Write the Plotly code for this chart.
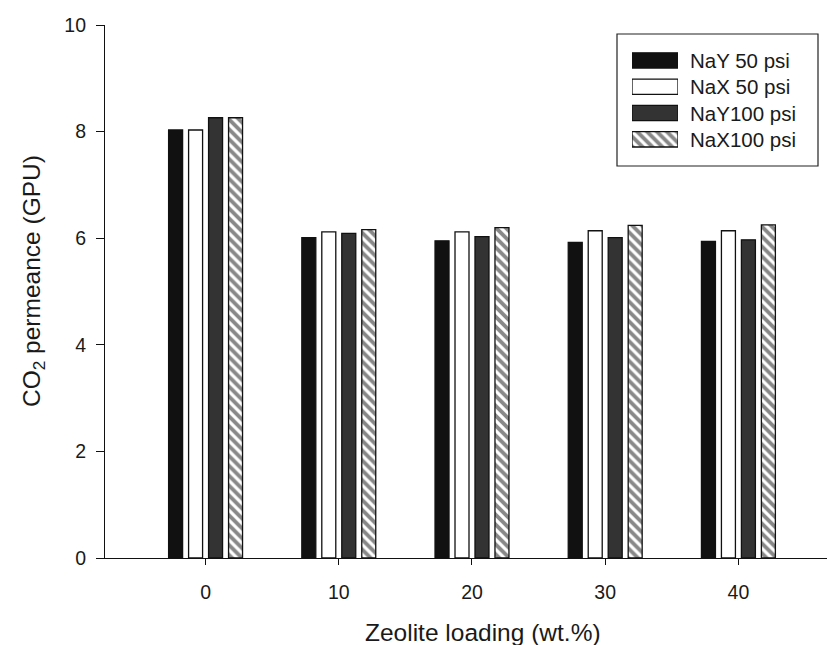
import plotly.graph_objects as go

# Zeolite loading (wt.%) and CO2 permeance (GPU) for each membrane / feed pressure
LOADING = [0, 10, 20, 30, 40]
NAY_50 = [8.03, 6.01, 5.95, 5.92, 5.94]
NAX_50 = [8.03, 6.12, 6.12, 6.14, 6.14]
NAY_100 = [8.26, 6.09, 6.03, 6.01, 5.97]
NAX_100 = [8.26, 6.16, 6.20, 6.24, 6.25]

SERIES_NAMES = ["NaY 50 psi", "NaX 50 psi", "NaY100 psi", "NaX100 psi"]
SERIES_VALUES = [NAY_50, NAX_50, NAY_100, NAX_100]
Y_TICKS = [0, 2, 4, 6, 8, 10]

FILLS = ["#111111", "#ffffff", "#333333", "#ffffff"]
PATTERNS = ["", "", "", "\\"]

FONT = "Arial, Liberation Sans, Helvetica, sans-serif"
INK = "#1a1a1a"

W, H = 827, 645
L, R, T, B = 105, 0, 25, 87
PW, PH = W - L - R, H - T - B


def px_x(x):
    return (x - L) / PW


def px_y(y):
    return (H - B - y) / PH


def marker_style(i):
    m = dict(color=FILLS[i], line=dict(color="#111111", width=1.3))
    if PATTERNS[i]:
        m["pattern"] = dict(shape=PATTERNS[i], fgcolor="#111111", bgcolor="#ffffff",
                            size=7, solidity=0.55, fillmode="overlay")
    return m


fig = go.Figure()

for i, (name, vals) in enumerate(zip(SERIES_NAMES, SERIES_VALUES)):
    fig.add_trace(go.Bar(x=LOADING, y=vals, name=name, marker=marker_style(i),
                         showlegend=False, xaxis="x", yaxis="y"))

# Legend swatches drawn as bars on a small inset axis so they share the bar styling
rows = list(range(len(SERIES_NAMES)))
for i in rows:
    fig.add_trace(go.Bar(x=[1], y=[i], orientation="h", width=0.58,
                         marker=marker_style(i), showlegend=False,
                         xaxis="x2", yaxis="y2", hoverinfo="skip"))

row_centers = [60.5, 86.7, 113.0, 139.3]
annotations = []
for name, yc in zip(SERIES_NAMES, row_centers):
    annotations.append(dict(text=name, xref="paper", yref="paper",
                            x=px_x(688), y=px_y(yc), xanchor="left", yanchor="middle",
                            showarrow=False, font=dict(size=20.5, color=INK, family=FONT)))

# Axis titles
annotations.append(dict(text="Zeolite loading (wt.%)", xref="paper", yref="paper",
                        x=px_x(483), y=px_y(632), xanchor="center", yanchor="middle",
                        showarrow=False, font=dict(size=24.5, color=INK, family=FONT)))
annotations.append(dict(text="CO<sub>2</sub> permeance (GPU)", xref="paper", yref="paper",
                        x=px_x(33), y=px_y(281), xanchor="center", yanchor="middle",
                        textangle=-90, showarrow=False,
                        font=dict(size=24.5, color=INK, family=FONT)))

fig.update_layout(
    width=W, height=H,
    margin=dict(l=L, r=R, t=T, b=B),
    paper_bgcolor="white", plot_bgcolor="white",
    barmode="group", bargap=0.4, bargroupgap=0.3,
    font=dict(family=FONT, color=INK),
    showlegend=False,
    xaxis=dict(range=[-7.55, 46.65], tickvals=LOADING, ticktext=[str(v) for v in LOADING],
               showgrid=False, zeroline=False, showline=True, linecolor="#111111",
               linewidth=1.2, ticks="outside", ticklen=6, tickwidth=1.2,
               tickcolor="#111111", tickfont=dict(size=19.5, color=INK),
               ticklabelstandoff=10),
    yaxis=dict(range=[0, 10], tickvals=Y_TICKS, showgrid=False, zeroline=False,
               showline=True, linecolor="#111111", linewidth=1.2, ticks="outside",
               ticklen=8, tickwidth=1.2, tickcolor="#111111",
               tickfont=dict(size=19.5, color=INK), ticklabelstandoff=6),
    xaxis2=dict(domain=[px_x(632), px_x(678)], range=[0, 1], anchor="y2",
                visible=False, fixedrange=True),
    yaxis2=dict(domain=[px_y(152.5), px_y(47.3)], range=[3.5, -0.5], anchor="x2",
                visible=False, fixedrange=True),
    annotations=annotations,
    shapes=[dict(type="rect", xref="paper", yref="paper",
                 x0=px_x(617), x1=px_x(818), y0=px_y(166), y1=px_y(34),
                 line=dict(color="#222222", width=1.2), fillcolor="rgba(0,0,0,0)",
                 layer="below")],
)

fig.write_html("out.html")
